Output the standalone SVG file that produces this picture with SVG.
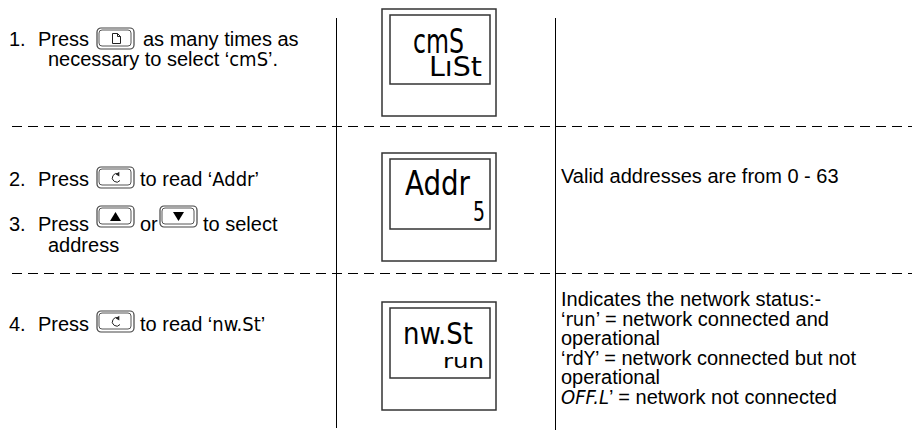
<svg xmlns="http://www.w3.org/2000/svg" width="916" height="430" viewBox="0 0 916 430">
<defs>
<style>
.t{font-family:"Liberation Sans",Arial,sans-serif;font-size:20px;fill:#000}
.s{font-family:"DejaVu Sans Condensed","DejaVu Sans",sans-serif;font-stretch:condensed}
.disp{fill:#fff;stroke:#333;stroke-width:1.5}
.dash{stroke:#000;stroke-width:1;stroke-dasharray:10 6}
.vl{stroke:#000;stroke-width:1}
.bo{fill:#fff;stroke:#444;stroke-width:1.2}
.bi{fill:none;stroke:#555;stroke-width:1}
.ic{fill:none;stroke:#222;stroke-width:1}
</style>
<g id="btn">
<rect class="bo" x="0" y="0" width="37" height="21" rx="4"/>
<rect class="bi" x="2" y="2" width="32" height="16" rx="3"/>
</g>
</defs>
<rect width="916" height="430" fill="#fff"/>

<g id="connectors">
<line class="vl" x1="336.5" y1="18" x2="336.5" y2="428"/>
<line class="vl" x1="555.5" y1="18" x2="555.5" y2="430"/>
<line class="dash" x1="12" y1="126.5" x2="912" y2="126.5"/>
<line class="dash" x1="12" y1="273.5" x2="912" y2="273.5"/>
</g>

<g id="step1">
<text class="t" x="9" y="46">1.</text>
<text class="t" x="38" y="46">Press</text>
<use href="#btn" x="97" y="28"/>
<path class="ic" d="M112.5,33.5 h5 l3,3 v7 h-8 z M117.5,33.5 v3 h3"/>
<text class="t" x="143" y="46">as many times as</text>
<text class="t" x="48" y="66">necessary to select ‘<tspan class="s" font-size="20">cmS</tspan>’.</text>
</g>

<g id="display1">
<rect class="disp" x="382" y="9" width="114" height="107"/>
<rect class="disp" x="390" y="15" width="100" height="69"/>
<text class="s" x="413" y="53" font-size="34" textLength="51" lengthAdjust="spacingAndGlyphs">cmS</text>
<text class="s" x="429" y="76" font-size="26" textLength="53" lengthAdjust="spacingAndGlyphs">LıSt</text>
</g>

<g id="step2">
<text class="t" x="9" y="186">2.</text>
<text class="t" x="38" y="186">Press</text>
<use href="#btn" x="97" y="167"/>
<path class="ic" d="M118.6,174 A4.3,4.3 0 1 0 120,180.5"/>
<path d="M115.5,174.2 l3.8,-2.4 v4.6 z" fill="#222"/>
<text class="t" x="140" y="186">to read ‘<tspan class="s" font-size="20">Addr</tspan>’</text>
</g>

<g id="step3">
<text class="t" x="9" y="231">3.</text>
<text class="t" x="38" y="231">Press</text>
<use href="#btn" x="97" y="206"/>
<path d="M110,221 l5.5,-9 l5.5,9 z" fill="#000"/>
<text class="t" x="140" y="231">or</text>
<use href="#btn" x="160" y="206"/>
<path d="M173,212 l5.5,9 l5.5,-9 z" fill="#000"/>
<text class="t" x="203" y="231">to select</text>
<text class="t" x="48" y="252">address</text>
</g>

<g id="display2">
<rect class="disp" x="382" y="153" width="114" height="108"/>
<rect class="disp" x="390" y="159" width="100" height="70"/>
<text class="s" x="405" y="195" font-size="33" textLength="65" lengthAdjust="spacingAndGlyphs">Addr</text>
<text class="s" x="473" y="221" font-size="26" textLength="12" lengthAdjust="spacingAndGlyphs">5</text>
</g>

<g id="note2">
<text class="t" x="561" y="183">Valid addresses are from 0 - 63</text>
</g>

<g id="step4">
<text class="t" x="9" y="331">4.</text>
<text class="t" x="38" y="331">Press</text>
<use href="#btn" x="97" y="311"/>
<path class="ic" d="M118.6,318 A4.3,4.3 0 1 0 120,324.5"/>
<path d="M115.5,318.2 l3.8,-2.4 v4.6 z" fill="#222"/>
<text class="t" x="140" y="331">to read ‘<tspan class="s" font-size="20">nw.St</tspan>’</text>
</g>

<g id="display3">
<rect class="disp" x="382" y="302" width="114" height="108"/>
<rect class="disp" x="390" y="308" width="100" height="70"/>
<text class="s" x="403" y="344" font-size="30" textLength="70" lengthAdjust="spacingAndGlyphs">nw.St</text>
<text class="s" x="443" y="368" font-size="19" textLength="41" lengthAdjust="spacingAndGlyphs">run</text>
</g>

<g id="note4">
<text class="t" x="561" y="306">Indicates the network status:-</text>
<text class="t" x="561" y="325.5">‘<tspan class="s" font-size="20">run</tspan>’ = network connected and</text>
<text class="t" x="561" y="345">operational</text>
<text class="t" x="561" y="364.5">‘<tspan class="s" font-size="20">rdY</tspan>’ = network connected but not</text>
<text class="t" x="561" y="384">operational</text>
<text class="t" x="561" y="403.5"><tspan class="s" font-size="20" font-style="italic">OFF.L</tspan>’ = network not connected</text>
</g>
</svg>
